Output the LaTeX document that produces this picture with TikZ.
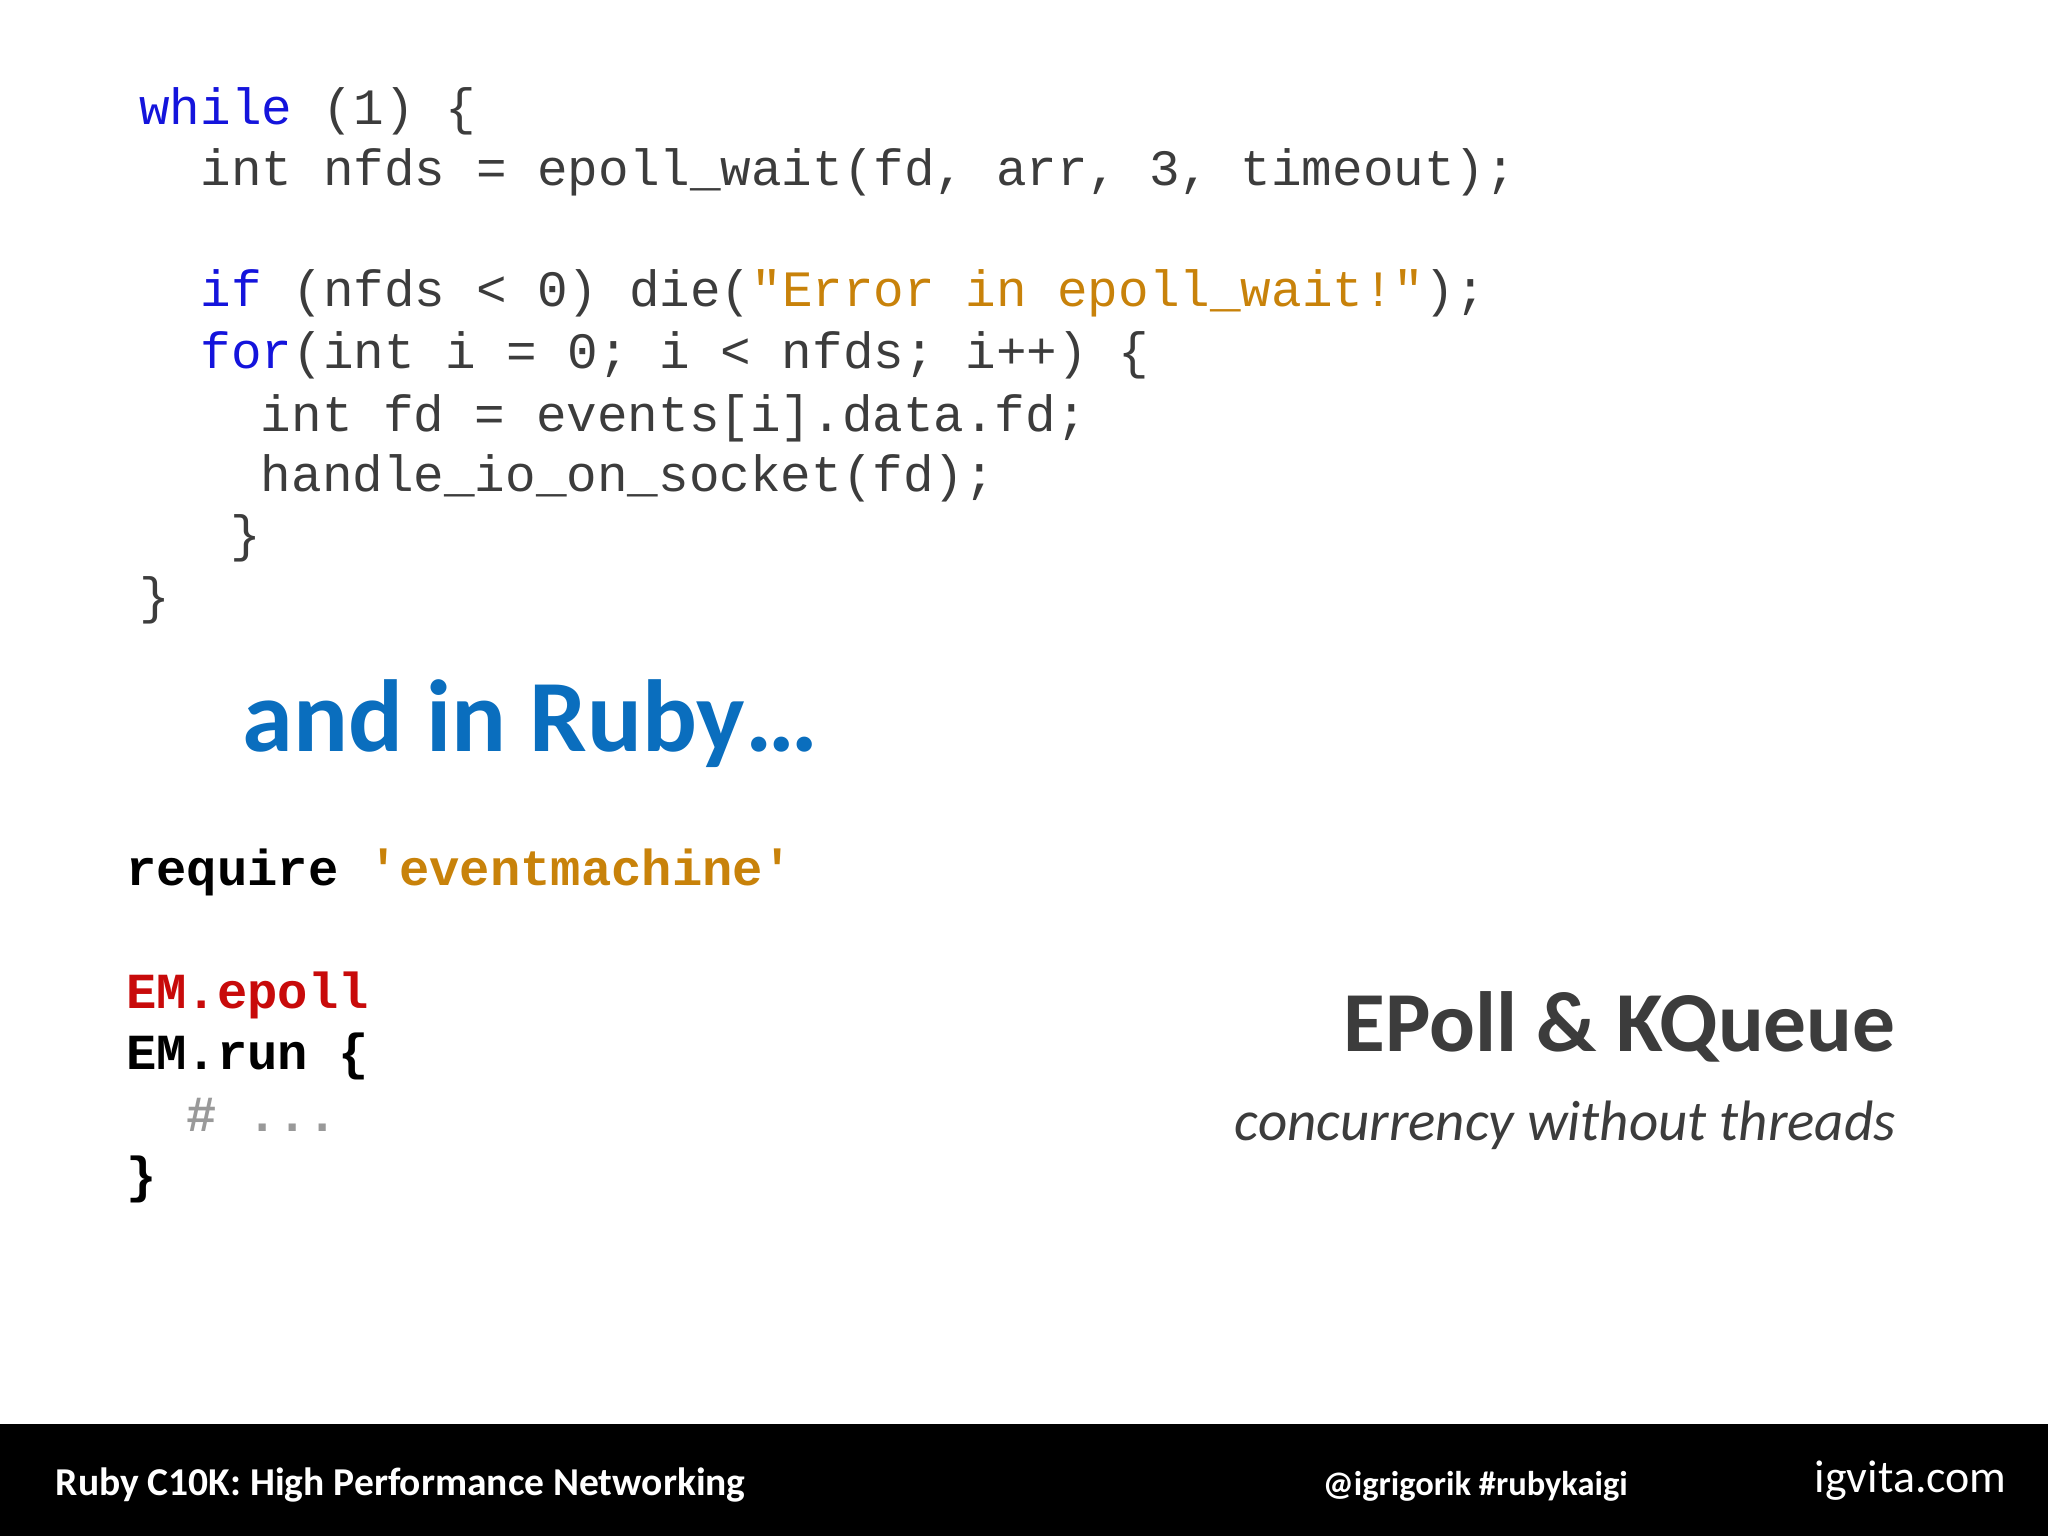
\documentclass[tikz,border=0pt]{standalone}
\usepackage{fontspec}
\newfontfamily\mono{Liberation Mono}
\newfontfamily\calfont{Carlito}
\definecolor{kw}{RGB}{20,20,220}
\definecolor{st}{RGB}{200,130,10}
\definecolor{em}{RGB}{200,10,10}
\definecolor{tx}{RGB}{60,60,60}
\definecolor{ttl}{RGB}{10,110,190}
\newcommand{\sq}{\char"27\relax}
\newcommand{\dq}{\char"22\relax}
\begin{document}
\begin{tikzpicture}[x=0.01cm,y=-0.01cm,
  code/.style={anchor=base west,inner sep=0,font=\mono\fontsize{11.1}{13}\selectfont,text=tx},
  rb/.style={anchor=base west,inner sep=0,font=\mono\bfseries\fontsize{11}{13}\selectfont,text=black},
  foot/.style={inner sep=0,text=white,font=\calfont\bfseries\fontsize{8.6}{10}\selectfont}]
\useasboundingbox (0,0) rectangle (1568,1176);
\fill[black] (0,1090) rectangle (1568,1176);
\node[code] (c1) at (106,95) {\textcolor{kw}{while} (1) \{};
\node[code] (c2) at (153,142) {int nfds = epoll\_wait(fd, arr, 3, timeout);};
\node[code] (c3) at (153,235) {\textcolor{kw}{if} (nfds < 0) die(\textcolor{st}{\dq Error in epoll\_wait!\dq});};
\node[code] (c4) at (153,282) {\textcolor{kw}{for}(int i = 0; i < nfds; i++) \{};
\node[code] (c5) at (199,330) {int fd = events[i].data.fd;};
\node[code] (c6) at (199,376) {handle\_io\_on\_socket(fd);};
\node[code] (c7) at (176,422) {\}};
\node[code] (c8) at (106,470) {\}};
\node[anchor=base west,inner sep=0,text=ttl,font=\calfont\bfseries\fontsize{22.3}{26}\selectfont] (t) at (185,575) {and in Ruby…};
\node[rb] (r1) at (96,678) {require \textcolor{st}{\sq eventmachine\sq}};
\node[rb] (r2) at (96,772) {\textcolor{em}{EM.epoll}};
\node[rb] (r3) at (96,819) {EM.run \{};
\node[rb,text=gray!80] (r4) at (142,866) {\# ...};
\node[rb] (r5) at (96,913) {\}};
\node[anchor=base east,inner sep=0,text=tx,font=\calfont\bfseries\fontsize{18.6}{22}\selectfont] (ep) at (1452,805) {EPoll \& KQueue};
\node[anchor=base east,inner sep=0,text=tx,font=\calfont\itshape\fontsize{12.4}{15}\selectfont] (cw) at (1452,873) {concurrency without threads};
\node[foot,anchor=base west] (f1) at (42,1145) {Ruby C10K: High Performance Networking};
\node[foot,anchor=base east,font=\calfont\bfseries\fontsize{7.5}{9}\selectfont] (f2) at (1247,1145) {@igrigorik \#rubykaigi};
\node[inner sep=0,anchor=base east,text=white,font=\calfont\fontsize{10}{11}\selectfont] (f3) at (1537,1143) {igvita.com};
\end{tikzpicture}
\end{document}
